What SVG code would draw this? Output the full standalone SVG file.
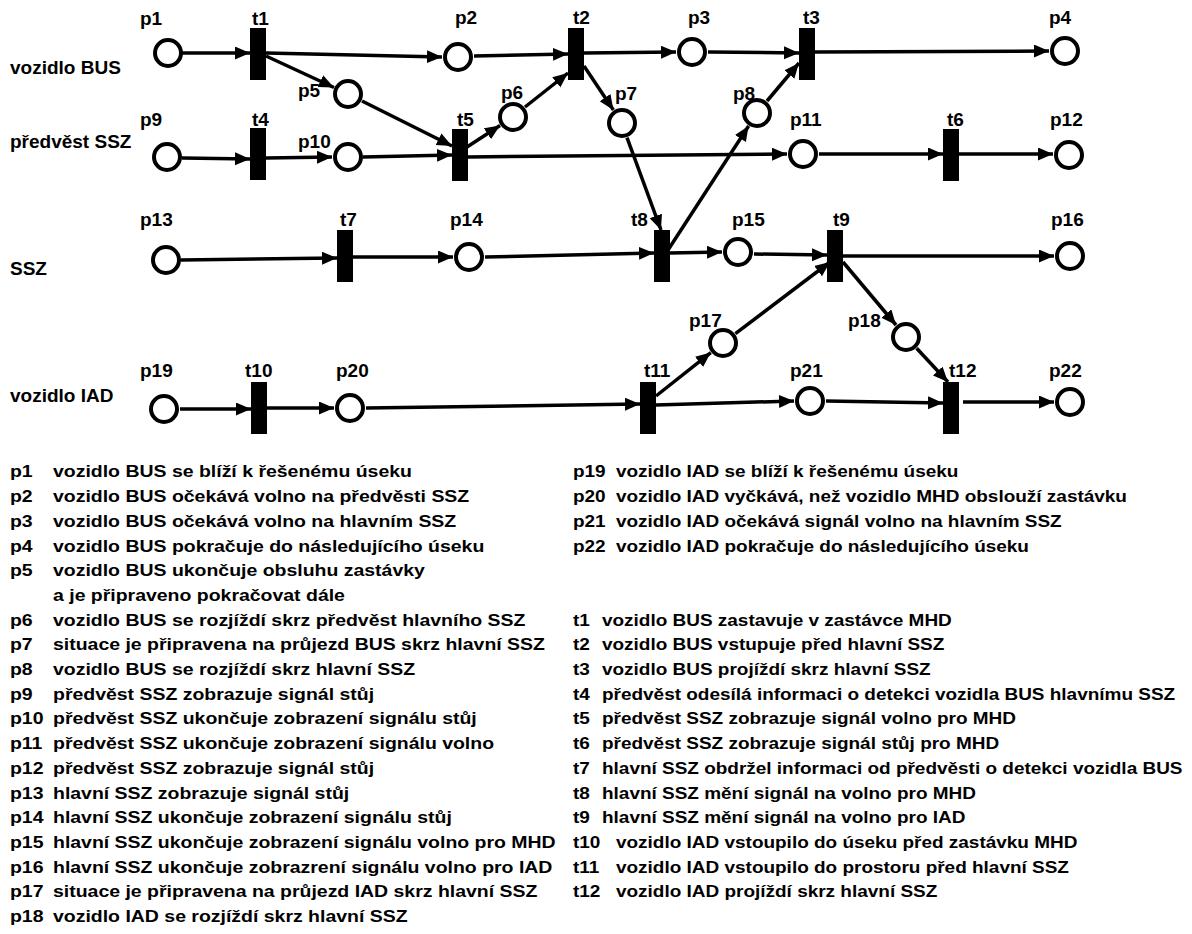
<svg xmlns="http://www.w3.org/2000/svg" width="1192" height="934" viewBox="0 0 1192 934">
<style>
text{font-family:"Liberation Sans",Arial,sans-serif;font-weight:bold;fill:#000}
.lab{font-size:19px}
.lane{font-size:19px}
.leg{font-size:16.5px}
.pl{fill:#fff;stroke:#000;stroke-width:4}
.tr{fill:#000}
.arc{fill:none;stroke:#000;stroke-width:3.5;marker-end:url(#ah)}
</style>
<defs>
<marker id="ah" markerUnits="userSpaceOnUse" markerWidth="16" markerHeight="14" refX="15" refY="6.5" orient="auto">
<path d="M0,0 L15,6.5 L0,13 z" fill="#000"/>
</marker>
</defs>
<rect width="1192" height="934" fill="#fff"/>
<g id="lanes">
<text class="lane" x="10" y="74">vozidlo BUS</text>
<text class="lane" x="10" y="148">předvěst SSZ</text>
<text class="lane" x="10" y="275">SSZ</text>
<text class="lane" x="10" y="402">vozidlo IAD</text>
</g>
<g id="connectors">
<path class="arc" d="M182,53 L250,53"/>
<path class="arc" d="M266,53 L442,57"/>
<path class="arc" d="M266,56 L334,87.5"/>
<path class="arc" d="M362,101 L452,146"/>
<path class="arc" d="M363,157 L452,155"/>
<path class="arc" d="M182,158 L250,159"/>
<path class="arc" d="M266,158 L332,157"/>
<path class="arc" d="M474,56 L568,54"/>
<path class="arc" d="M584,53 L676,52"/>
<path class="arc" d="M708,52 L799,53"/>
<path class="arc" d="M815,52 L1049,51"/>
<path class="arc" d="M467,147 L500,125.5"/>
<path class="arc" d="M525,107 L568,73"/>
<path class="arc" d="M584,66 L613.4,110"/>
<path class="arc" d="M627,137.6 L661,230"/>
<path class="arc" d="M668,250 L748.6,126"/>
<path class="arc" d="M767,101 L799,63"/>
<path class="arc" d="M467,157 L787,154"/>
<path class="arc" d="M819,154 L943,154"/>
<path class="arc" d="M959,154 L1053,154"/>
<path class="arc" d="M181,260 L337,258"/>
<path class="arc" d="M353,257 L453,257"/>
<path class="arc" d="M485,257 L654,253"/>
<path class="arc" d="M670,253 L722,252"/>
<path class="arc" d="M754,254 L827,255"/>
<path class="arc" d="M843,256 L1054,256"/>
<path class="arc" d="M843,262 L896,325"/>
<path class="arc" d="M916.6,348.3 L948,382"/>
<path class="arc" d="M735.4,333.6 L830,262"/>
<path class="arc" d="M656,396 L710.8,352.6"/>
<path class="arc" d="M366,408 L640,404"/>
<path class="arc" d="M656,405 L794,401"/>
<path class="arc" d="M826,401 L943,403"/>
<path class="arc" d="M963,402 L1054,402"/>
<path class="arc" d="M180,409 L251,409"/>
<path class="arc" d="M266,408 L334,408"/>
</g>
<g id="p1"><circle class="pl" cx="168" cy="53" r="13"/><text class="lab" x="140" y="25">p1</text></g>
<g id="p2"><circle class="pl" cx="458" cy="57" r="13"/><text class="lab" x="455" y="24">p2</text></g>
<g id="p3"><circle class="pl" cx="692" cy="52" r="13"/><text class="lab" x="688" y="24">p3</text></g>
<g id="p4"><circle class="pl" cx="1065" cy="51" r="13"/><text class="lab" x="1049" y="24">p4</text></g>
<g id="p5"><circle class="pl" cx="348" cy="94" r="13"/><text class="lab" x="298" y="97">p5</text></g>
<g id="p6"><circle class="pl" cx="513" cy="117" r="13"/><text class="lab" x="501" y="99">p6</text></g>
<g id="p7"><circle class="pl" cx="622" cy="123" r="13"/><text class="lab" x="615" y="100">p7</text></g>
<g id="p8"><circle class="pl" cx="757" cy="113" r="13"/><text class="lab" x="733" y="100">p8</text></g>
<g id="p9"><circle class="pl" cx="167" cy="157" r="13"/><text class="lab" x="140" y="126">p9</text></g>
<g id="p10"><circle class="pl" cx="348" cy="157" r="13"/><text class="lab" x="298" y="148">p10</text></g>
<g id="p11"><circle class="pl" cx="803" cy="154" r="13"/><text class="lab" x="790" y="126">p11</text></g>
<g id="p12"><circle class="pl" cx="1069" cy="155" r="13"/><text class="lab" x="1050" y="126">p12</text></g>
<g id="p13"><circle class="pl" cx="166" cy="260" r="13"/><text class="lab" x="140" y="226">p13</text></g>
<g id="p14"><circle class="pl" cx="469" cy="257" r="13"/><text class="lab" x="450" y="226">p14</text></g>
<g id="p15"><circle class="pl" cx="738" cy="252" r="13"/><text class="lab" x="732" y="226">p15</text></g>
<g id="p16"><circle class="pl" cx="1070" cy="256" r="13"/><text class="lab" x="1051" y="226">p16</text></g>
<g id="p17"><circle class="pl" cx="723" cy="343" r="13"/><text class="lab" x="689" y="327">p17</text></g>
<g id="p18"><circle class="pl" cx="906" cy="337" r="13"/><text class="lab" x="848" y="327">p18</text></g>
<g id="p19"><circle class="pl" cx="164" cy="409" r="13"/><text class="lab" x="140" y="377">p19</text></g>
<g id="p20"><circle class="pl" cx="350" cy="408" r="13"/><text class="lab" x="336" y="377">p20</text></g>
<g id="p21"><circle class="pl" cx="810" cy="401" r="13"/><text class="lab" x="790" y="377">p21</text></g>
<g id="p22"><circle class="pl" cx="1070" cy="402" r="13"/><text class="lab" x="1049" y="377">p22</text></g>
<g id="t1"><rect class="tr" x="250" y="28" width="16" height="52"/><text class="lab" x="252" y="25">t1</text></g>
<g id="t2"><rect class="tr" x="568" y="28" width="16" height="52"/><text class="lab" x="573" y="24">t2</text></g>
<g id="t3"><rect class="tr" x="799" y="28" width="16" height="52"/><text class="lab" x="803" y="24">t3</text></g>
<g id="t4"><rect class="tr" x="250" y="128" width="16" height="52"/><text class="lab" x="252" y="126">t4</text></g>
<g id="t5"><rect class="tr" x="452" y="129" width="16" height="52"/><text class="lab" x="457" y="126">t5</text></g>
<g id="t6"><rect class="tr" x="943" y="129" width="16" height="52"/><text class="lab" x="947" y="126">t6</text></g>
<g id="t7"><rect class="tr" x="337" y="230" width="16" height="52"/><text class="lab" x="340" y="226">t7</text></g>
<g id="t8"><rect class="tr" x="654" y="230" width="16" height="52"/><text class="lab" x="631" y="226">t8</text></g>
<g id="t9"><rect class="tr" x="827" y="230" width="16" height="52"/><text class="lab" x="833" y="226">t9</text></g>
<g id="t10"><rect class="tr" x="251" y="382" width="16" height="52"/><text class="lab" x="245" y="377">t10</text></g>
<g id="t11"><rect class="tr" x="640" y="382" width="16" height="52"/><text class="lab" x="644" y="377">t11</text></g>
<g id="t12"><rect class="tr" x="943" y="382" width="16" height="52"/><text class="lab" x="949" y="377">t12</text></g>
<g id="legend-left" transform="scale(1.18,1)">
<text class="leg" x="8.47" y="477.5">p1</text><text class="leg" x="44.92" y="477.5">vozidlo BUS se blíží k řešenému úseku</text>
<text class="leg" x="8.47" y="502.2">p2</text><text class="leg" x="44.92" y="502.2">vozidlo BUS očekává volno na předvěsti SSZ</text>
<text class="leg" x="8.47" y="526.9">p3</text><text class="leg" x="44.92" y="526.9">vozidlo BUS očekává volno na hlavním SSZ</text>
<text class="leg" x="8.47" y="551.6">p4</text><text class="leg" x="44.92" y="551.6">vozidlo BUS pokračuje do následujícího úseku</text>
<text class="leg" x="8.47" y="576.3">p5</text><text class="leg" x="44.92" y="576.3">vozidlo BUS ukončuje obsluhu zastávky</text>
<text class="leg" x="44.92" y="601">a je připraveno pokračovat dále</text>
<text class="leg" x="8.47" y="625.7">p6</text><text class="leg" x="44.92" y="625.7">vozidlo BUS se rozjíždí skrz předvěst hlavního SSZ</text>
<text class="leg" x="8.47" y="650.4">p7</text><text class="leg" x="44.92" y="650.4">situace je připravena na průjezd BUS skrz hlavní SSZ</text>
<text class="leg" x="8.47" y="675.1">p8</text><text class="leg" x="44.92" y="675.1">vozidlo BUS se rozjíždí skrz hlavní SSZ</text>
<text class="leg" x="8.47" y="699.8">p9</text><text class="leg" x="44.92" y="699.8">předvěst SSZ zobrazuje signál stůj</text>
<text class="leg" x="8.47" y="724.5">p10</text><text class="leg" x="44.92" y="724.5">předvěst SSZ ukončuje zobrazení signálu stůj</text>
<text class="leg" x="8.47" y="749.2">p11</text><text class="leg" x="44.92" y="749.2">předvěst SSZ ukončuje zobrazení signálu volno</text>
<text class="leg" x="8.47" y="773.9">p12</text><text class="leg" x="44.92" y="773.9">předvěst SSZ zobrazuje signál stůj</text>
<text class="leg" x="8.47" y="798.6">p13</text><text class="leg" x="44.92" y="798.6">hlavní SSZ zobrazuje signál stůj</text>
<text class="leg" x="8.47" y="823.3">p14</text><text class="leg" x="44.92" y="823.3">hlavní SSZ ukončuje zobrazení signálu stůj</text>
<text class="leg" x="8.47" y="848">p15</text><text class="leg" x="44.92" y="848">hlavní SSZ ukončuje zobrazení signálu volno pro MHD</text>
<text class="leg" x="8.47" y="872.7">p16</text><text class="leg" x="44.92" y="872.7">hlavní SSZ ukončuje zobrazrení signálu volno pro IAD</text>
<text class="leg" x="8.47" y="897.4">p17</text><text class="leg" x="44.92" y="897.4">situace je připravena na průjezd IAD skrz hlavní SSZ</text>
<text class="leg" x="8.47" y="922.1">p18</text><text class="leg" x="44.92" y="922.1">vozidlo IAD se rozjíždí skrz hlavní SSZ</text>
</g>
<g id="legend-right" transform="scale(1.15,1)">
<text class="leg" x="498.26" y="477.5">p19</text><text class="leg" x="535.65" y="477.5">vozidlo IAD se blíží k řešenému úseku</text>
<text class="leg" x="498.26" y="502.2">p20</text><text class="leg" x="535.65" y="502.2">vozidlo IAD vyčkává, než vozidlo MHD obslouží zastávku</text>
<text class="leg" x="498.26" y="526.9">p21</text><text class="leg" x="535.65" y="526.9">vozidlo IAD očekává signál volno na hlavním SSZ</text>
<text class="leg" x="498.26" y="551.6">p22</text><text class="leg" x="535.65" y="551.6">vozidlo IAD pokračuje do následujícího úseku</text>
<text class="leg" x="498.26" y="625.7">t1</text><text class="leg" x="523.48" y="625.7">vozidlo BUS zastavuje v zastávce MHD</text>
<text class="leg" x="498.26" y="650.4">t2</text><text class="leg" x="523.48" y="650.4">vozidlo BUS vstupuje před hlavní SSZ</text>
<text class="leg" x="498.26" y="675.1">t3</text><text class="leg" x="523.48" y="675.1">vozidlo BUS projíždí skrz hlavní SSZ</text>
<text class="leg" x="498.26" y="699.8">t4</text><text class="leg" x="523.48" y="699.8">předvěst odesílá informaci o detekci vozidla BUS hlavnímu SSZ</text>
<text class="leg" x="498.26" y="724.5">t5</text><text class="leg" x="523.48" y="724.5">předvěst SSZ zobrazuje signál volno pro MHD</text>
<text class="leg" x="498.26" y="749.2">t6</text><text class="leg" x="523.48" y="749.2">předvěst SSZ zobrazuje signál stůj pro MHD</text>
<text class="leg" x="498.26" y="773.9">t7</text><text class="leg" x="523.48" y="773.9">hlavní SSZ obdržel informaci od předvěsti o detekci vozidla BUS</text>
<text class="leg" x="498.26" y="798.6">t8</text><text class="leg" x="523.48" y="798.6">hlavní SSZ mění signál na volno pro MHD</text>
<text class="leg" x="498.26" y="823.3">t9</text><text class="leg" x="523.48" y="823.3">hlavní SSZ mění signál na volno pro IAD</text>
<text class="leg" x="498.26" y="848">t10</text><text class="leg" x="535.65" y="848">vozidlo IAD vstoupilo do úseku před zastávku MHD</text>
<text class="leg" x="498.26" y="872.7">t11</text><text class="leg" x="535.65" y="872.7">vozidlo IAD vstoupilo do prostoru před hlavní SSZ</text>
<text class="leg" x="498.26" y="897.4">t12</text><text class="leg" x="535.65" y="897.4">vozidlo IAD projíždí skrz hlavní SSZ</text>
</g>
</svg>
